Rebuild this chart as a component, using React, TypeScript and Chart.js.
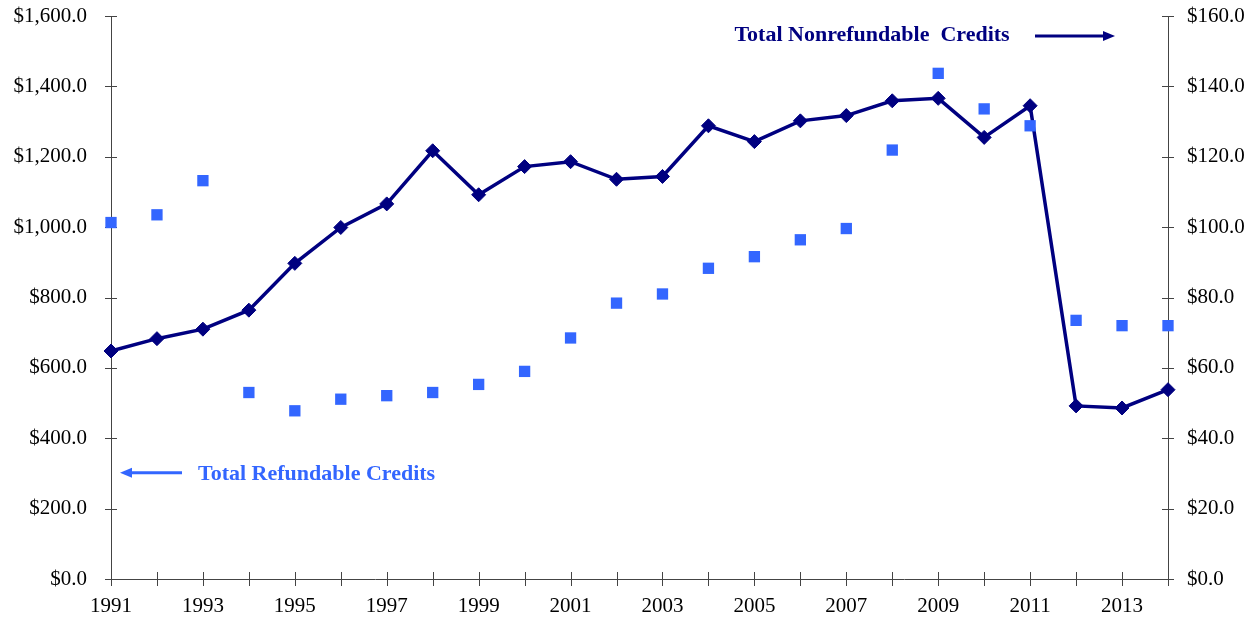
import React, { useEffect, useRef } from "react";
import { Chart, registerables } from "chart.js";

Chart.register(...registerables);

const years = [
  "1991", "1992", "1993", "1994", "1995", "1996", "1997", "1998", "1999", "2000",
  "2001", "2002", "2003", "2004", "2005", "2006", "2007", "2008", "2009", "2010",
  "2011", "2012", "2013", "2014",
];

// Total Refundable Credits (left axis)
const refundable = [
  1013, 1035, 1132, 530, 478, 511, 521, 530, 553, 590,
  685, 784, 810, 883, 916, 964, 996, 1219, 1437, 1336,
  1288, 735, 720, 720,
];

// Total Nonrefundable Credits (right axis)
const nonrefundable = [
  64.8, 68.3, 71.0, 76.4, 89.7, 99.9, 106.6, 121.7, 109.2, 117.2,
  118.6, 113.6, 114.4, 128.8, 124.3, 130.2, 131.7, 135.9, 136.6, 125.5,
  134.5, 49.2, 48.6, 53.8,
];

const NAVY = "#000080";
const BLUE = "#3366FF";
const AXIS = "#444444";
const FONT = "'Liberation Serif', 'Times New Roman', serif";

const fmtMoney = (v: number) =>
  "$" + Number(v).toLocaleString("en-US", { minimumFractionDigits: 1, maximumFractionDigits: 1 });

const tickPlugin = {
  id: "crossTicks",
  beforeDatasetsDraw(chart: any) {
    const ctx = chart.ctx;
    const { x, y, y2 } = chart.scales;
    ctx.save();
    ctx.strokeStyle = AXIS;
    ctx.lineWidth = 1;
    ctx.beginPath();
    x.ticks.forEach((_t: any, i: number) => {
      const px = Math.round(x.getPixelForTick(i)) + 0.5;
      ctx.moveTo(px, x.top - 7);
      ctx.lineTo(px, x.top + 7);
    });
    y.ticks.forEach((_t: any, i: number) => {
      const py = Math.round(y.getPixelForTick(i)) + 0.5;
      ctx.moveTo(y.right - 6, py);
      ctx.lineTo(y.right + 6, py);
    });
    y2.ticks.forEach((_t: any, i: number) => {
      const py = Math.round(y2.getPixelForTick(i)) + 0.5;
      ctx.moveTo(y2.left - 6, py);
      ctx.lineTo(y2.left + 6, py);
    });
    ctx.stroke();
    ctx.restore();
  },
};

function arrow(ctx: any, x1: number, x2: number, yy: number, color: string) {
  const dir = x2 > x1 ? 1 : -1;
  const head = 12;
  ctx.strokeStyle = color;
  ctx.fillStyle = color;
  ctx.lineWidth = 3;
  ctx.beginPath();
  ctx.moveTo(x1, yy);
  ctx.lineTo(x2 - dir * head, yy);
  ctx.stroke();
  ctx.beginPath();
  ctx.moveTo(x2, yy);
  ctx.lineTo(x2 - dir * head, yy - 5);
  ctx.lineTo(x2 - dir * head, yy + 5);
  ctx.closePath();
  ctx.fill();
}

const labelPlugin = {
  id: "seriesLabels",
  afterDraw(chart: any) {
    const ctx = chart.ctx;
    const { y, y2, x } = chart.scales;
    const area = chart.chartArea;
    ctx.save();
    ctx.font = `bold 22px ${FONT}`;
    ctx.textBaseline = "middle";
    ctx.textAlign = "left";
    const ny = y2.getPixelForValue(154.3);
    ctx.fillStyle = NAVY;
    ctx.fillText("Total Nonrefundable  Credits", x.getPixelForValue(13.5) + 3, ny - 1);
    arrow(ctx, area.right - 133, area.right - 53, ny, NAVY);
    const ry = y.getPixelForValue(302);
    ctx.fillStyle = BLUE;
    ctx.fillText("Total Refundable Credits", area.left + 87, ry + 2);
    arrow(ctx, area.left + 71, area.left + 9, ry, BLUE);
    ctx.restore();
  },
};

const noPad = (s: any) => {
  s.paddingTop = 0;
  s.paddingBottom = 0;
};

export default function App() {
  const ref = useRef<HTMLCanvasElement | null>(null);
  useEffect(() => {
    document.body.style.margin = "0";
    const canvas = ref.current!;
    const chart = new Chart(canvas, {
      type: "line",
      data: {
        labels: years,
        datasets: [
          {
            label: "Total Nonrefundable Credits",
            data: nonrefundable,
            yAxisID: "y2",
            borderColor: NAVY,
            backgroundColor: NAVY,
            borderWidth: 3.5,
            pointStyle: "rectRot",
            pointRadius: 7,
            pointBorderWidth: 1,
            pointBorderColor: NAVY,
            pointBackgroundColor: NAVY,
            tension: 0,
            clip: false as any,
            order: 2,
          },
          {
            label: "Total Refundable Credits",
            data: refundable,
            yAxisID: "y",
            showLine: false,
            borderColor: BLUE,
            backgroundColor: BLUE,
            pointStyle: "rect",
            pointRadius: 8,
            pointBorderWidth: 0,
            pointBackgroundColor: BLUE,
            clip: false as any,
            order: 1,
          },
        ],
      },
      options: {
        responsive: false,
        animation: false,
        layout: { padding: { top: 16, left: 0, right: 0, bottom: 0 } },
        plugins: {
          legend: { display: false },
          tooltip: { enabled: false },
          title: { display: false },
        },
        scales: {
          x: {
            type: "category",
            offset: false,
            grid: { display: false, drawTicks: false },
            border: { display: true, color: AXIS, width: 1 },
            ticks: {
              autoSkip: false,
              maxRotation: 0,
              minRotation: 0,
              padding: 15,
              color: "#000",
              font: { family: FONT, size: 21 },
              callback: (_v: any, i: number) => (i % 2 === 0 ? years[i] : ""),
            },
            afterFit: (s: any) => {
              s.height = 39;
              s.paddingLeft = 0;
              s.paddingRight = 0;
            },
          },
          y: {
            position: "left",
            min: 0,
            max: 1600,
            grid: { display: false, drawTicks: false },
            border: { display: true, color: AXIS, width: 1 },
            ticks: {
              stepSize: 200,
              padding: 24,
              color: "#000",
              font: { family: FONT, size: 21 },
              callback: (v: any) => fmtMoney(v),
            },
            afterFit: (s: any) => {
              s.width = 111;
              noPad(s);
            },
          },
          y2: {
            position: "right",
            min: 0,
            max: 160,
            grid: { display: false, drawTicks: false },
            border: { display: true, color: AXIS, width: 1 },
            ticks: {
              stepSize: 20,
              padding: 19,
              color: "#000",
              font: { family: FONT, size: 21 },
              callback: (v: any) => fmtMoney(v),
            },
            afterFit: (s: any) => {
              s.width = 92;
              noPad(s);
            },
          },
        },
      },
      plugins: [tickPlugin, labelPlugin],
    } as any);
    return () => chart.destroy();
  }, []);
  return (
    <div style={{ width: 1260, height: 618 }}>
      <canvas ref={ref} width={1260} height={618} style={{ display: "block" }} />
    </div>
  );
}
